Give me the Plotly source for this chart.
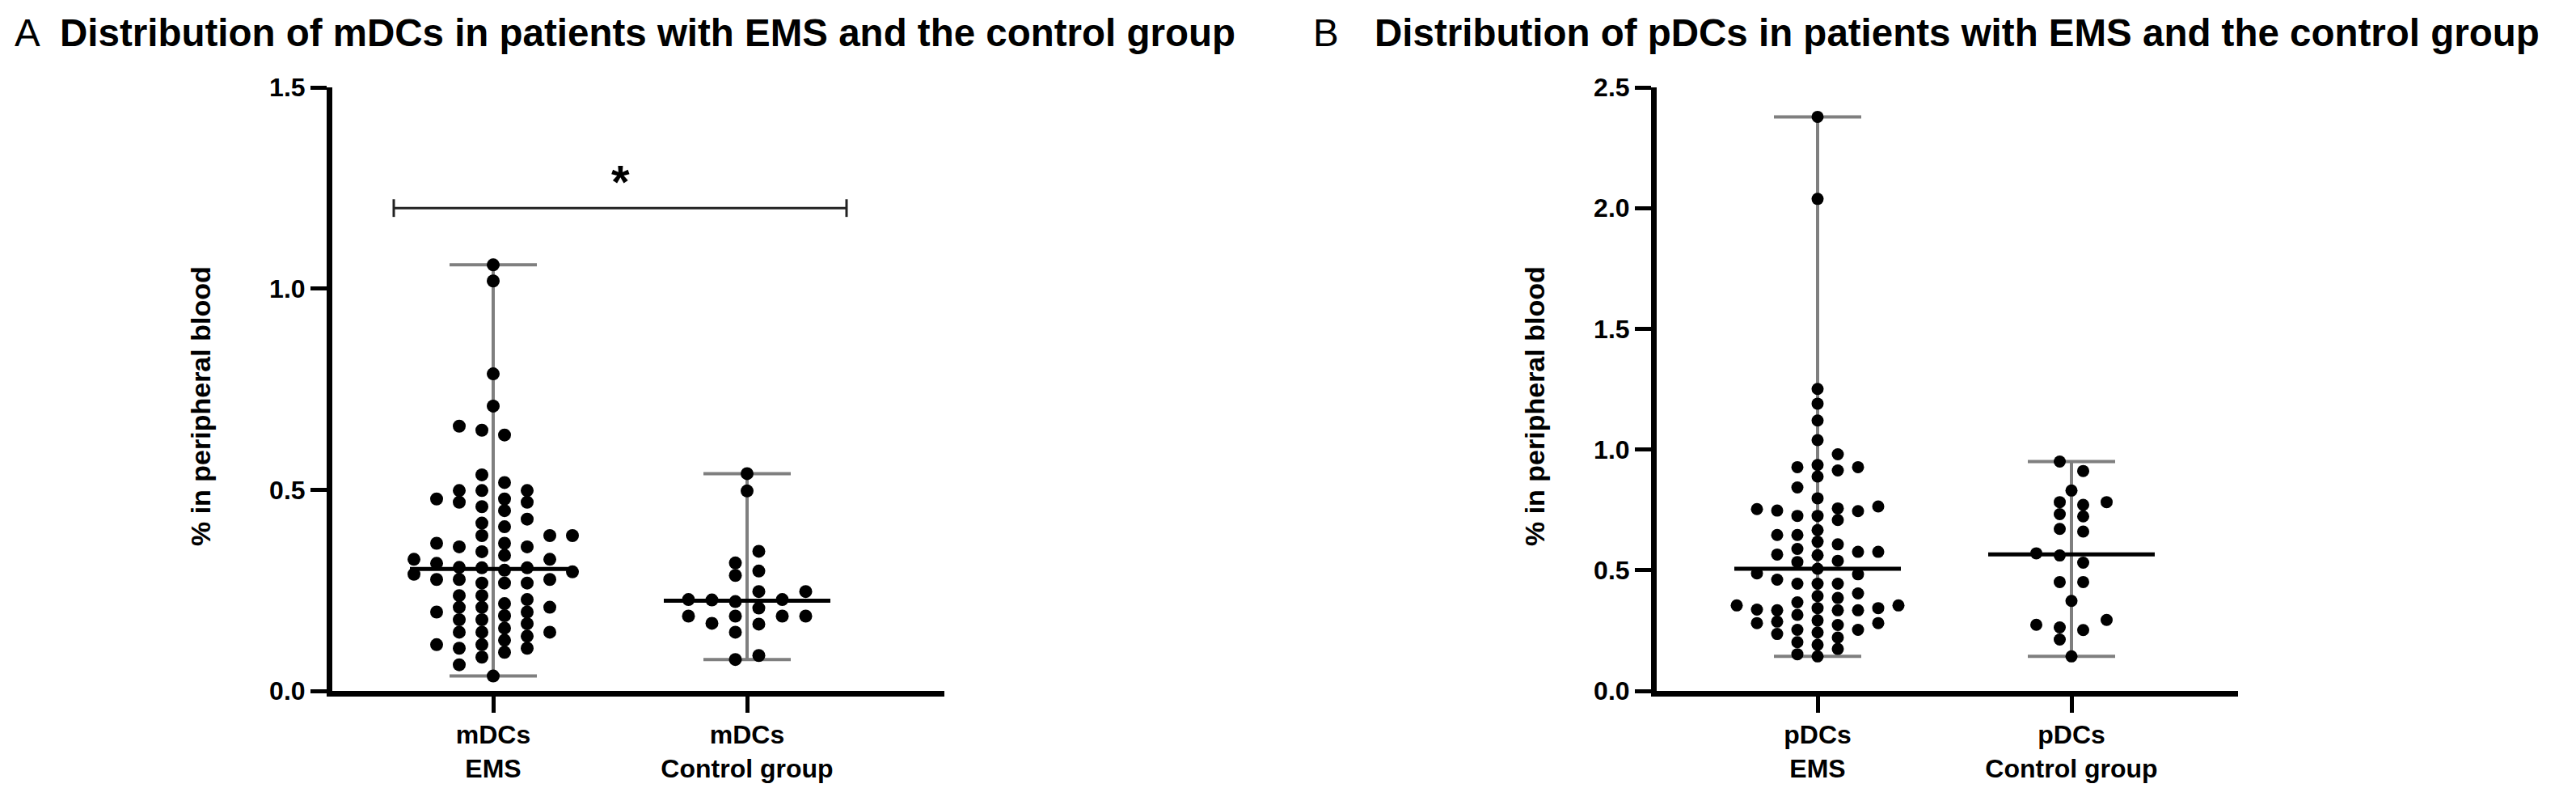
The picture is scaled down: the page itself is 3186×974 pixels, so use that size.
import numpy as np
import plotly.graph_objects as go

# ---------------- data ----------------
categories_a = ["mDCs<br>EMS", "mDCs<br>Control group"]
categories_b = ["pDCs<br>EMS", "pDCs<br>Control group"]

mdc_ems = [1.059, 1.019, 0.788, 0.708, 0.037,
           0.658, 0.498, 0.469, 0.386, 0.277, 0.237, 0.196, 0.156, 0.096,
           0.636, 0.537, 0.498, 0.458, 0.427, 0.386, 0.306, 0.268, 0.237, 0.208,
           0.177, 0.146, 0.115, 0.084,
           0.648, 0.518, 0.477, 0.448, 0.358, 0.327, 0.296, 0.268, 0.217, 0.136,
           0.106, 0.065,
           0.498, 0.469, 0.408, 0.337, 0.306, 0.268, 0.227, 0.187, 0.146, 0.115,
           0.477, 0.417, 0.386, 0.346, 0.317, 0.277, 0.208, 0.177, 0.146, 0.106,
           0.367, 0.290,
           0.358, 0.327, 0.300, 0.208, 0.167, 0.126,
           0.367, 0.307, 0.277, 0.196]
mdc_ctrl = [0.540, 0.497, 0.347, 0.298, 0.222, 0.186, 0.146, 0.078, 0.318, 0.287,
            0.227, 0.186, 0.088, 0.247, 0.186, 0.247, 0.206, 0.166, 0.227, 0.186,
            0.226, 0.168]
pdc_ems = [2.378, 2.038, 1.251, 1.190, 1.120, 1.039, 0.980, 0.913, 0.843, 0.753,
           0.708, 0.618, 0.534, 0.444, 0.337, 0.287, 0.236, 0.174,
           0.927, 0.798, 0.725, 0.588, 0.539, 0.506, 0.367, 0.315, 0.253, 0.191, 0.143,
           0.927, 0.747, 0.646, 0.576, 0.444, 0.343,
           0.756, 0.565, 0.487, 0.393, 0.334, 0.273,
           0.354, 0.253,
           0.936, 0.888, 0.725, 0.666, 0.607, 0.483, 0.385, 0.334, 0.281, 0.202, 0.152,
           0.745, 0.646, 0.562, 0.444, 0.334, 0.281, 0.221,
           0.764, 0.576, 0.461, 0.404, 0.354, 0.292,
           0.343, 0.242]
pdc_ctrl = [0.950, 0.911, 0.830, 0.782, 0.771, 0.723, 0.782, 0.732, 0.671, 0.660,
            0.561, 0.570, 0.531, 0.451, 0.451, 0.373, 0.294, 0.252, 0.274, 0.213,
            0.263, 0.143]

y_ticks_a = [0.0, 0.5, 1.0, 1.5]
y_ticks_b = [0.0, 0.5, 1.0, 1.5, 2.0, 2.5]
sig_y_a = 1.2
sig_label_a = "*"

title_a = "Distribution of mDCs in patients with EMS and the control group"
title_b = "Distribution of pDCs in patients with EMS and the control group"
y_title = "% in peripheral blood"

# ---------------- layout geometry (pixels) ----------------
W, H = 3186, 974
PLOT_TOP, PLOT_BOTTOM = 100, 846
A_LEFT, A_RIGHT = 403, 1160
B_LEFT, B_RIGHT = 2041, 2760
CAT_STEP = 314          # px between the two categories
FIRST_CAT = 199         # px from y-axis to first category
PLOT_H = PLOT_BOTTOM - PLOT_TOP
FONT = "Liberation Sans, Arial, Helvetica, sans-serif"


def xrange_for(left, right):
    lo = -FIRST_CAT / CAT_STEP
    hi = lo + (right - left) / CAT_STEP
    return [lo, hi]


def swarm(values, ky, n_cols, gap_px, d_px):
    """Prism-like column swarm: returns x offsets in px."""
    v = np.asarray(values, float)
    y = v * ky
    order = np.argsort(v, kind="stable")
    base = [(j - (n_cols - 1) / 2) * gap_px for j in range(n_cols)]
    ext = []
    for k in range(1, 6):
        ext += [base[0] - k * gap_px, base[-1] + k * gap_px]
    allcols = base + ext
    levels = sorted(set(round(abs(c), 6) for c in allcols))
    placed = []
    counts = {}
    xs = np.zeros(len(v))

    def free(c, yy):
        for px, py in placed:
            if abs(px - c) < 0.9 * gap_px and abs(py - yy) < d_px:
                return False
        return True

    for i in order:
        yy = y[i]
        others = np.abs(y - yy)
        others[i] = np.inf
        chosen = None
        if n_cols % 2 == 0 and others.min() >= 0.9 * d_px and free(0.0, yy):
            chosen = 0.0
        if chosen is None:
            for lev in levels:
                cands = [c for c in allcols if abs(abs(c) - lev) < 1e-6]
                ok = [c for c in cands if free(c, yy)]
                if ok:
                    chosen = min(ok, key=lambda c: (counts.get(c, 0), c))
                    break
        if chosen is None:
            chosen = 0.0
        counts[chosen] = counts.get(chosen, 0) + 1
        placed.append((chosen, yy))
        xs[i] = chosen
    return xs


fig = go.Figure()

panels = [
    dict(xa="x", ya="y", groups=[mdc_ems, mdc_ctrl], ymax=1.5,
         params=[(8, 28, 14), (6, 29, 15)], msize=16),
    dict(xa="x2", ya="y2", groups=[pdc_ems, pdc_ctrl], ymax=2.5,
         params=[(9, 25, 14), (4, 29, 14)], msize=15),
]

GREY = "#7f7f7f"
MED_HALF = 103 / CAT_STEP
CAP_HALF = 54 / CAT_STEP
for p in panels:
    ky = PLOT_H / p["ymax"]
    for ci, (vals, (ncol, gap, d)) in enumerate(zip(p["groups"], p["params"])):
        vals = np.asarray(vals)
        cx = float(ci)
        vmin, vmax, med = vals.min(), vals.max(), float(np.median(vals))
        fig.add_trace(go.Scatter(x=[cx, cx], y=[vmin, vmax], mode="lines",
                                 line=dict(color=GREY, width=4), xaxis=p["xa"], yaxis=p["ya"],
                                 showlegend=False, hoverinfo="skip"))
        for yv in (vmin, vmax):
            fig.add_trace(go.Scatter(x=[cx - CAP_HALF, cx + CAP_HALF], y=[yv, yv], mode="lines",
                                     line=dict(color=GREY, width=4), xaxis=p["xa"], yaxis=p["ya"],
                                     showlegend=False, hoverinfo="skip"))
        xo = swarm(vals, ky, ncol, gap, d) / CAT_STEP
        fig.add_trace(go.Scatter(x=cx + xo, y=vals, mode="markers",
                                 marker=dict(color="black", size=p["msize"], line=dict(width=0)),
                                 xaxis=p["xa"], yaxis=p["ya"], showlegend=False))
        fig.add_trace(go.Scatter(x=[cx - MED_HALF, cx + MED_HALF], y=[med, med], mode="lines",
                                 line=dict(color="black", width=5), xaxis=p["xa"], yaxis=p["ya"],
                                 showlegend=False, hoverinfo="skip"))

# significance bracket (panel A)
pad = 123 / CAT_STEP
bx0, bx1 = 0 - pad, 1 + pad
fig.add_shape(type="line", xref="x", yref="y", x0=bx0, x1=bx1, y0=sig_y_a, y1=sig_y_a,
              line=dict(color="#222222", width=3))
for bx in (bx0, bx1):
    fig.add_shape(type="line", xref="x", yref="y", x0=bx, x1=bx, y0=sig_y_a - 0.022,
                  y1=sig_y_a + 0.022, line=dict(color="#222222", width=3))
fig.add_annotation(x=0.5, y=sig_y_a + 0.065, xref="x", yref="y", text="<b>" + sig_label_a + "</b>",
                   showarrow=False, font=dict(family=FONT, size=58, color="black"),
                   xanchor="center", yanchor="middle")

axis_common = dict(showline=True, linecolor="black", linewidth=7, ticks="outside",
                   ticklen=20, tickwidth=5, tickcolor="black", showgrid=False, zeroline=False,
                   automargin=False,
                   tickfont=dict(family=FONT, size=32, color="black", weight="bold"))

ydom = [1 - PLOT_BOTTOM / H, 1 - PLOT_TOP / H]
fig.update_layout(
    width=W, height=H, margin=dict(l=0, r=0, t=0, b=0, autoexpand=False),
    paper_bgcolor="white", plot_bgcolor="white", showlegend=False,
    xaxis=dict(domain=[A_LEFT / W, A_RIGHT / W], range=xrange_for(A_LEFT, A_RIGHT),
               tickvals=[0, 1], ticktext=categories_a, anchor="y", **axis_common),
    yaxis=dict(domain=ydom, range=[0, 1.5], tickvals=y_ticks_a, tickformat=".1f",
               anchor="x", **axis_common),
    xaxis2=dict(domain=[B_LEFT / W, B_RIGHT / W], range=xrange_for(B_LEFT, B_RIGHT),
                tickvals=[0, 1], ticktext=categories_b, anchor="y2", **axis_common),
    yaxis2=dict(domain=ydom, range=[0, 2.5], tickvals=y_ticks_b, tickformat=".1f",
                anchor="x2", **axis_common),
)

# titles
TSIZE = 47.5
TITLE_Y = 32
for letter, lx, tx, txt in (("A", 8, 64, title_a), ("B", 1614, 1690, title_b)):
    fig.add_annotation(x=lx / W, y=1 - TITLE_Y / H, xref="paper", yref="paper", text=letter,
                       showarrow=False, xanchor="left", yanchor="middle",
                       font=dict(family=FONT, size=TSIZE, color="black"))
    fig.add_annotation(x=tx / W, y=1 - TITLE_Y / H, xref="paper", yref="paper", text="<b>" + txt + "</b>",
                       showarrow=False, xanchor="left", yanchor="middle",
                       font=dict(family=FONT, size=TSIZE, color="black"))

# y-axis titles
for tx_px in (240, 1890):
    fig.add_annotation(x=tx_px / W, y=1 - 494 / H, xref="paper", yref="paper",
                       text="<b>" + y_title + "</b>", textangle=-90, showarrow=False,
                       xanchor="center", yanchor="middle",
                       font=dict(family=FONT, size=34, color="black"))

fig.write_html("out.html")
